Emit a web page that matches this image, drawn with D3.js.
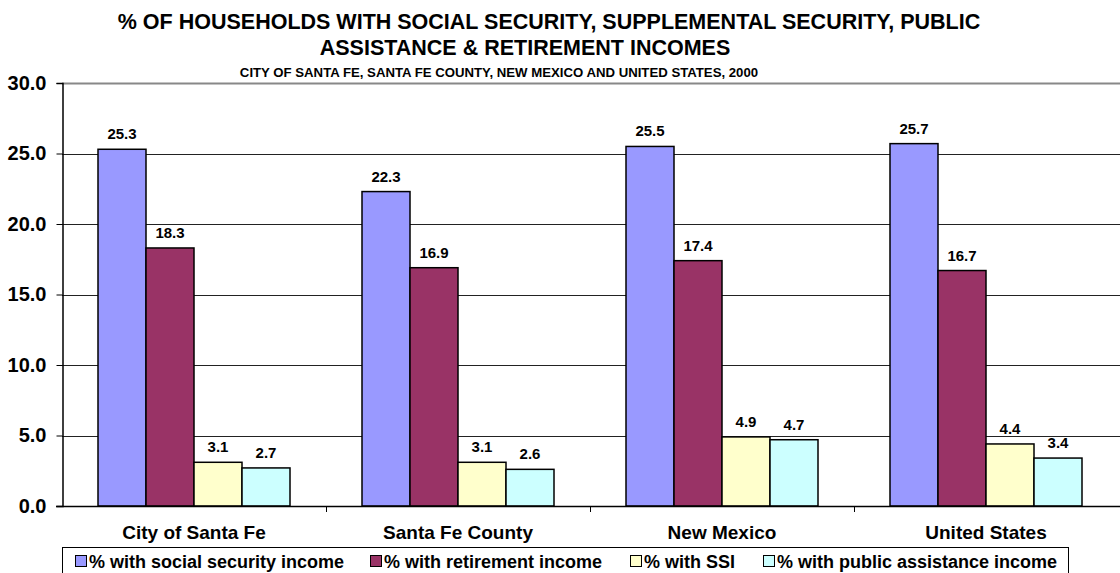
<!DOCTYPE html>
<html>
<head>
<meta charset="utf-8">
<script src="https://cdn.jsdelivr.net/npm/d3@7"></script>
<style>
  body { margin: 0; background: #fff; }
  svg { display: block; font-family: Arial, "Liberation Sans", sans-serif; font-weight: bold; }
</style>
</head>
<body>
<svg id="chart" width="1120" height="573"></svg>
<script>
const categories = ["City of Santa Fe", "Santa Fe County", "New Mexico", "United States"];
const seriesNames = ["% with social security income", "% with retirement income", "% with SSI", "% with public assistance income"];
const socialSecurity = [25.3, 22.3, 25.5, 25.7];
const retirement = [18.3, 16.9, 17.4, 16.7];
const ssi = [3.1, 3.1, 4.9, 4.4];
const publicAssistance = [2.7, 2.6, 4.7, 3.4];
const yTicks = [0, 5, 10, 15, 20, 25, 30];
const colors = ["#9999FF", "#993366", "#FFFFCC", "#CCFFFF"];

const seriesValues = [socialSecurity, retirement, ssi, publicAssistance];

const svg = d3.select("#chart");
const plotLeft = 62, plotRight = 1118, plotTop = 83, plotBottom = 506;

const x0 = d3.scaleBand().domain(categories).range([plotLeft, plotRight]).paddingInner(0).paddingOuter(0);
const x1 = d3.scaleBand().domain(d3.range(4)).range([36, x0.bandwidth() - 36]).padding(0);
const y = d3.scaleLinear().domain([0, 30]).range([plotBottom, plotTop]);

// gridlines
svg.append("g").selectAll("line").data(yTicks.filter(t => t > 0)).join("line")
  .attr("x1", plotLeft).attr("x2", 1120)
  .attr("y1", d => Math.round(y(d)) + 0.5).attr("y2", d => Math.round(y(d)) + 0.5)
  .attr("stroke", d => d === 30 ? "#888" : "#222")
  .attr("stroke-width", d => d === 30 ? 2 : 1);

// bars
const groups = svg.append("g").selectAll("g").data(categories).join("g")
  .attr("transform", c => `translate(${x0(c)},0)`);

groups.each(function(c, ci) {
  const g = d3.select(this);
  seriesValues.forEach((vals, si) => {
    const v = vals[ci];
    g.append("rect")
      .attr("x", x1(si)).attr("width", x1.bandwidth())
      .attr("y", y(v)).attr("height", y(0) - y(v))
      .attr("fill", colors[si]).attr("stroke", "#000").attr("stroke-width", 1.5);
    g.append("text")
      .attr("x", x1(si) + x1.bandwidth() / 2)
      .attr("y", y(v) - 10)
      .attr("text-anchor", "middle")
      .attr("font-size", 15)
      .text(v.toFixed(1));
  });
});

// y axis
const yAxis = d3.axisLeft(y).tickValues(yTicks).tickFormat(d3.format(".1f")).tickSize(6).tickPadding(10);
const ya = svg.append("g").attr("transform", `translate(${plotLeft + 0.5},0)`).call(yAxis);
ya.select(".domain").attr("stroke", "#000").attr("stroke-width", 1.5);
ya.selectAll(".tick line").attr("stroke", "#000");
ya.selectAll(".tick text").attr("font-size", 20).attr("font-family", "Arial, 'Liberation Sans', sans-serif").attr("font-weight", "bold").attr("fill", "#000");

// x axis
const xAxis = d3.axisBottom(x0).tickSize(0).tickPadding(0).tickFormat("");
const xa = svg.append("g").attr("transform", `translate(0,${plotBottom + 0.5})`).call(xAxis);
xa.select(".domain").attr("stroke", "#000").attr("stroke-width", 1.5).attr("d", `M${plotLeft - 6},0H1120`);
// category separator ticks
svg.append("g").selectAll("line").data(categories.slice(1)).join("line")
  .attr("x1", c => x0(c) + 0.5).attr("x2", c => x0(c) + 0.5)
  .attr("y1", plotBottom).attr("y2", plotBottom + 6).attr("stroke", "#000");
svg.append("g").selectAll("text").data(categories).join("text")
  .attr("x", c => x0(c) + x0.bandwidth() / 2)
  .attr("y", 539)
  .attr("text-anchor", "middle")
  .attr("font-size", 19)
  .text(c => c);

// titles
svg.append("text").attr("x", 549).attr("y", 29).attr("text-anchor", "middle").attr("font-size", 21.5)
  .text("% OF HOUSEHOLDS WITH SOCIAL SECURITY, SUPPLEMENTAL SECURITY, PUBLIC");
svg.append("text").attr("x", 525).attr("y", 55).attr("text-anchor", "middle").attr("font-size", 21.5)
  .text("ASSISTANCE & RETIREMENT INCOMES");
svg.append("text").attr("x", 499).attr("y", 77).attr("text-anchor", "middle").attr("font-size", 13.2)
  .text("CITY OF SANTA FE, SANTA FE COUNTY, NEW MEXICO AND UNITED STATES, 2000");

// legend
const legend = svg.append("g");
legend.append("rect").attr("x", 62.5).attr("y", 547.5).attr("width", 1006).attr("height", 40)
  .attr("fill", "#fff").attr("stroke", "#000").attr("stroke-width", 1);
const legendX = [75, 370, 630, 763];
seriesNames.forEach((name, i) => {
  legend.append("rect").attr("x", legendX[i] + 0.5).attr("y", 555.5).attr("width", 11).attr("height", 11)
    .attr("fill", colors[i]).attr("stroke", "#000").attr("stroke-width", 1);
  legend.append("text").attr("x", legendX[i] + 14).attr("y", 568).attr("font-size", 18).text(name);
});
</script>
</body>
</html>
